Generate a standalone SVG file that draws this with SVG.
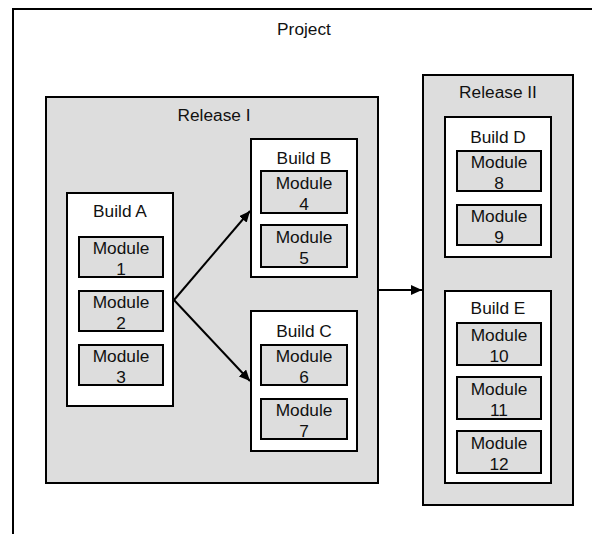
<svg xmlns="http://www.w3.org/2000/svg" width="592" height="534" viewBox="0 0 592 534">
  <style>
    .frame { fill: #ffffff; stroke: #000000; stroke-width: 2; }
    .release { fill: #dddddd; stroke: #000000; stroke-width: 2; }
    .build { fill: #ffffff; stroke: #000000; stroke-width: 2; }
    .module { fill: #dddddd; stroke: #000000; stroke-width: 2; }
    text { font-family: "Liberation Sans", Arial, sans-serif; font-size: 17.3px; fill: #111111; text-anchor: middle; }
    .link { fill: none; stroke: #000000; stroke-width: 2; }
  </style>
  <defs>
    <marker id="arrow" markerUnits="userSpaceOnUse" markerWidth="12" markerHeight="10" refX="11" refY="5" orient="auto">
      <path d="M0,0 L11,5 L0,10 z" fill="#000000"/>
    </marker>
  </defs>

  <rect width="592" height="534" fill="#ffffff"/>

  <!-- outer project frame (runs past the canvas on right and bottom) -->
  <g id="project">
    <rect class="frame" x="13" y="9" width="640" height="600"/>
    <text x="304" y="35">Project</text>
  </g>

  <!-- Release I -->
  <g id="release-1">
    <rect class="release" x="46" y="97" width="332" height="386"/>
    <text x="214" y="121">Release I</text>
  </g>

  <g id="build-a">
    <rect class="build" x="67" y="193" width="106" height="213"/>
    <text x="120" y="217">Build A</text>
  </g>
  <g id="module-1">
    <rect class="module" x="79" y="237" width="84" height="40"/>
    <text x="121" y="254">Module</text>
    <text x="121" y="275">1</text>
  </g>
  <g id="module-2">
    <rect class="module" x="79" y="291" width="84" height="40"/>
    <text x="121" y="308">Module</text>
    <text x="121" y="329">2</text>
  </g>
  <g id="module-3">
    <rect class="module" x="79" y="345" width="84" height="40"/>
    <text x="121" y="362">Module</text>
    <text x="121" y="383">3</text>
  </g>

  <g id="build-b">
    <rect class="build" x="251" y="139" width="106" height="138"/>
    <text x="304" y="164">Build B</text>
  </g>
  <g id="module-4">
    <rect class="module" x="261" y="171" width="86" height="42"/>
    <text x="304" y="189">Module</text>
    <text x="304" y="210">4</text>
  </g>
  <g id="module-5">
    <rect class="module" x="261" y="225" width="86" height="42"/>
    <text x="304" y="243">Module</text>
    <text x="304" y="264">5</text>
  </g>

  <g id="build-c">
    <rect class="build" x="251" y="311" width="106" height="140"/>
    <text x="304" y="337">Build C</text>
  </g>
  <g id="module-6">
    <rect class="module" x="261" y="345" width="86" height="40"/>
    <text x="304" y="362">Module</text>
    <text x="304" y="383">6</text>
  </g>
  <g id="module-7">
    <rect class="module" x="261" y="399" width="86" height="40"/>
    <text x="304" y="416">Module</text>
    <text x="304" y="437">7</text>
  </g>

  <!-- Release II -->
  <g id="release-2">
    <rect class="release" x="423" y="75" width="150" height="430"/>
    <text x="498" y="98">Release II</text>
  </g>

  <g id="build-d">
    <rect class="build" x="445" y="117" width="106" height="140"/>
    <text x="498" y="143">Build D</text>
  </g>
  <g id="module-8">
    <rect class="module" x="457" y="151" width="84" height="40"/>
    <text x="499" y="168">Module</text>
    <text x="499" y="189">8</text>
  </g>
  <g id="module-9">
    <rect class="module" x="457" y="205" width="84" height="40"/>
    <text x="499" y="222">Module</text>
    <text x="499" y="243">9</text>
  </g>

  <g id="build-e">
    <rect class="build" x="445" y="291" width="106" height="192"/>
    <text x="498" y="314">Build E</text>
  </g>
  <g id="module-10">
    <rect class="module" x="457" y="323" width="84" height="42"/>
    <text x="499" y="341">Module</text>
    <text x="499" y="362">10</text>
  </g>
  <g id="module-11">
    <rect class="module" x="457" y="377" width="84" height="42"/>
    <text x="499" y="395">Module</text>
    <text x="499" y="416">11</text>
  </g>
  <g id="module-12">
    <rect class="module" x="457" y="431" width="84" height="42"/>
    <text x="499" y="449">Module</text>
    <text x="499" y="470">12</text>
  </g>

  <!-- connectors -->
  <g id="connectors">
    <line class="link" x1="174" y1="300" x2="250" y2="211" marker-end="url(#arrow)"/>
    <line class="link" x1="174" y1="300" x2="250" y2="381" marker-end="url(#arrow)"/>
    <line class="link" x1="379" y1="290" x2="422" y2="290" marker-end="url(#arrow)"/>
  </g>
</svg>
